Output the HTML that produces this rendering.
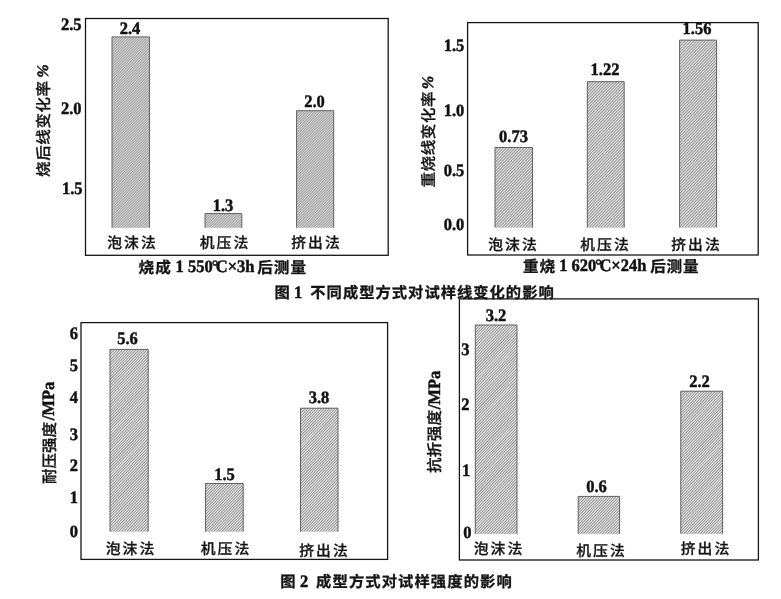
<!DOCTYPE html>
<html lang="zh">
<head>
<meta charset="utf-8">
<title>图1 图2 成型方式对试样线变化与强度的影响</title>
<style>
html,body{margin:0;padding:0;background:#fff;overflow:hidden}
body{width:781px;height:599px;font-family:"Liberation Serif",serif}
svg{display:block;will-change:transform}
svg text{font-family:"Liberation Serif",serif;font-weight:bold;text-rendering:geometricPrecision;fill:#111;stroke:#111;stroke-width:.45px}
svg text.cj{font-family:"Liberation Sans","Noto Sans CJK SC",sans-serif;font-weight:500;fill:#141414;stroke:#141414;stroke-width:.3px}
svg text.cjb{font-family:"Liberation Sans","Noto Sans CJK SC",sans-serif;font-weight:bold;fill:#141414;stroke:#141414;stroke-width:.3px}
</style>
</head>
<body>
<svg width="781" height="599" viewBox="0 0 781 599">
<defs>
<clipPath id="bc1"><rect x="112" y="36.9" width="37.50" height="190.90"/><rect x="205" y="213.6" width="36.80" height="14.20"/><rect x="296.6" y="110.7" width="37.10" height="117.10"/></clipPath><clipPath id="bc2"><rect x="495" y="147.5" width="37.50" height="80.00"/><rect x="587.3" y="81.7" width="36.90" height="145.80"/><rect x="679.6" y="40.1" width="37.00" height="187.40"/></clipPath><clipPath id="bc3"><rect x="110" y="349.4" width="38.20" height="182.10"/><rect x="205.5" y="483.5" width="37.70" height="48.00"/><rect x="300.5" y="408.2" width="37.50" height="123.30"/></clipPath><clipPath id="bc4"><rect x="475.3" y="325" width="41.70" height="208.70"/><rect x="578.2" y="496.4" width="41.40" height="37.30"/><rect x="680.8" y="391.2" width="41.80" height="142.50"/></clipPath>
</defs>
<rect width="781" height="599" fill="#fff"/>
<g clip-path="url(#bc1)"><rect x="111.0" y="35.9" width="223.7" height="192.9" fill="#a6a6a6"/><path d="M-81.9 228.8l192.9-192.9M-79.3 228.8l192.9-192.9M-76.7 228.8l192.9-192.9M-74.1 228.8l192.9-192.9M-71.5 228.8l192.9-192.9M-68.9 228.8l192.9-192.9M-66.3 228.8l192.9-192.9M-63.7 228.8l192.9-192.9M-61.1 228.8l192.9-192.9M-58.5 228.8l192.9-192.9M-55.9 228.8l192.9-192.9M-53.3 228.8l192.9-192.9M-50.7 228.8l192.9-192.9M-48.1 228.8l192.9-192.9M-45.5 228.8l192.9-192.9M-42.9 228.8l192.9-192.9M-40.3 228.8l192.9-192.9M-37.7 228.8l192.9-192.9M-35.1 228.8l192.9-192.9M-32.5 228.8l192.9-192.9M-29.9 228.8l192.9-192.9M-27.3 228.8l192.9-192.9M-24.7 228.8l192.9-192.9M-22.1 228.8l192.9-192.9M-19.5 228.8l192.9-192.9M-16.9 228.8l192.9-192.9M-14.3 228.8l192.9-192.9M-11.7 228.8l192.9-192.9M-9.1 228.8l192.9-192.9M-6.5 228.8l192.9-192.9M-3.9 228.8l192.9-192.9M-1.3 228.8l192.9-192.9M1.3 228.8l192.9-192.9M3.9 228.8l192.9-192.9M6.5 228.8l192.9-192.9M9.1 228.8l192.9-192.9M11.7 228.8l192.9-192.9M14.3 228.8l192.9-192.9M16.9 228.8l192.9-192.9M19.5 228.8l192.9-192.9M22.1 228.8l192.9-192.9M24.7 228.8l192.9-192.9M27.3 228.8l192.9-192.9M29.9 228.8l192.9-192.9M32.5 228.8l192.9-192.9M35.1 228.8l192.9-192.9M37.7 228.8l192.9-192.9M40.3 228.8l192.9-192.9M42.9 228.8l192.9-192.9M45.5 228.8l192.9-192.9M48.1 228.8l192.9-192.9M50.7 228.8l192.9-192.9M53.3 228.8l192.9-192.9M55.9 228.8l192.9-192.9M58.5 228.8l192.9-192.9M61.1 228.8l192.9-192.9M63.7 228.8l192.9-192.9M66.3 228.8l192.9-192.9M68.9 228.8l192.9-192.9M71.5 228.8l192.9-192.9M74.1 228.8l192.9-192.9M76.7 228.8l192.9-192.9M79.3 228.8l192.9-192.9M81.9 228.8l192.9-192.9M84.5 228.8l192.9-192.9M87.1 228.8l192.9-192.9M89.7 228.8l192.9-192.9M92.3 228.8l192.9-192.9M94.9 228.8l192.9-192.9M97.5 228.8l192.9-192.9M100.1 228.8l192.9-192.9M102.7 228.8l192.9-192.9M105.3 228.8l192.9-192.9M107.9 228.8l192.9-192.9M110.5 228.8l192.9-192.9M113.1 228.8l192.9-192.9M115.7 228.8l192.9-192.9M118.3 228.8l192.9-192.9M120.9 228.8l192.9-192.9M123.5 228.8l192.9-192.9M126.1 228.8l192.9-192.9M128.7 228.8l192.9-192.9M131.3 228.8l192.9-192.9M133.9 228.8l192.9-192.9M136.5 228.8l192.9-192.9M139.1 228.8l192.9-192.9M141.7 228.8l192.9-192.9M144.3 228.8l192.9-192.9M146.9 228.8l192.9-192.9M149.5 228.8l192.9-192.9M152.1 228.8l192.9-192.9M154.7 228.8l192.9-192.9M157.3 228.8l192.9-192.9M159.9 228.8l192.9-192.9M162.5 228.8l192.9-192.9M165.1 228.8l192.9-192.9M167.7 228.8l192.9-192.9M170.3 228.8l192.9-192.9M172.9 228.8l192.9-192.9M175.5 228.8l192.9-192.9M178.1 228.8l192.9-192.9M180.7 228.8l192.9-192.9M183.3 228.8l192.9-192.9M185.9 228.8l192.9-192.9M188.5 228.8l192.9-192.9M191.1 228.8l192.9-192.9M193.7 228.8l192.9-192.9M196.3 228.8l192.9-192.9M198.9 228.8l192.9-192.9M201.5 228.8l192.9-192.9M204.1 228.8l192.9-192.9M206.7 228.8l192.9-192.9M209.3 228.8l192.9-192.9M211.9 228.8l192.9-192.9M214.5 228.8l192.9-192.9M217.1 228.8l192.9-192.9M219.7 228.8l192.9-192.9M222.3 228.8l192.9-192.9M224.9 228.8l192.9-192.9M227.5 228.8l192.9-192.9M230.1 228.8l192.9-192.9M232.7 228.8l192.9-192.9M235.3 228.8l192.9-192.9M237.9 228.8l192.9-192.9M240.5 228.8l192.9-192.9M243.1 228.8l192.9-192.9M245.7 228.8l192.9-192.9M248.3 228.8l192.9-192.9M250.9 228.8l192.9-192.9M253.5 228.8l192.9-192.9M256.1 228.8l192.9-192.9M258.7 228.8l192.9-192.9M261.3 228.8l192.9-192.9M263.9 228.8l192.9-192.9M266.5 228.8l192.9-192.9M269.1 228.8l192.9-192.9M271.7 228.8l192.9-192.9M274.3 228.8l192.9-192.9M276.9 228.8l192.9-192.9M279.5 228.8l192.9-192.9M282.1 228.8l192.9-192.9M284.7 228.8l192.9-192.9M287.3 228.8l192.9-192.9M289.9 228.8l192.9-192.9M292.5 228.8l192.9-192.9M295.1 228.8l192.9-192.9M297.7 228.8l192.9-192.9M300.3 228.8l192.9-192.9M302.9 228.8l192.9-192.9M305.5 228.8l192.9-192.9M308.1 228.8l192.9-192.9M310.7 228.8l192.9-192.9M313.3 228.8l192.9-192.9M315.9 228.8l192.9-192.9M318.5 228.8l192.9-192.9M321.1 228.8l192.9-192.9M323.7 228.8l192.9-192.9M326.3 228.8l192.9-192.9M328.9 228.8l192.9-192.9M331.5 228.8l192.9-192.9M334.1 228.8l192.9-192.9" stroke="#e0e0e0" stroke-width="0.92" fill="none"/></g>
<g clip-path="url(#bc2)"><rect x="494.0" y="39.1" width="223.6" height="189.4" fill="#949494"/><path d="M311.1 228.5l182.9-189.4M314.0 228.5l182.9-189.4M316.9 228.5l182.9-189.4M319.8 228.5l182.9-189.4M322.7 228.5l182.9-189.4M325.6 228.5l182.9-189.4M328.5 228.5l182.9-189.4M331.4 228.5l182.9-189.4M334.3 228.5l182.9-189.4M337.2 228.5l182.9-189.4M340.1 228.5l182.9-189.4M343.0 228.5l182.9-189.4M345.9 228.5l182.9-189.4M348.8 228.5l182.9-189.4M351.7 228.5l182.9-189.4M354.6 228.5l182.9-189.4M357.5 228.5l182.9-189.4M360.4 228.5l182.9-189.4M363.3 228.5l182.9-189.4M366.2 228.5l182.9-189.4M369.1 228.5l182.9-189.4M372.0 228.5l182.9-189.4M374.9 228.5l182.9-189.4M377.8 228.5l182.9-189.4M380.7 228.5l182.9-189.4M383.6 228.5l182.9-189.4M386.5 228.5l182.9-189.4M389.4 228.5l182.9-189.4M392.3 228.5l182.9-189.4M395.2 228.5l182.9-189.4M398.1 228.5l182.9-189.4M401.0 228.5l182.9-189.4M403.9 228.5l182.9-189.4M406.8 228.5l182.9-189.4M409.7 228.5l182.9-189.4M412.6 228.5l182.9-189.4M415.5 228.5l182.9-189.4M418.4 228.5l182.9-189.4M421.3 228.5l182.9-189.4M424.2 228.5l182.9-189.4M427.1 228.5l182.9-189.4M430.0 228.5l182.9-189.4M432.9 228.5l182.9-189.4M435.8 228.5l182.9-189.4M438.7 228.5l182.9-189.4M441.6 228.5l182.9-189.4M444.5 228.5l182.9-189.4M447.4 228.5l182.9-189.4M450.3 228.5l182.9-189.4M453.2 228.5l182.9-189.4M456.1 228.5l182.9-189.4M459.0 228.5l182.9-189.4M461.9 228.5l182.9-189.4M464.8 228.5l182.9-189.4M467.7 228.5l182.9-189.4M470.6 228.5l182.9-189.4M473.5 228.5l182.9-189.4M476.4 228.5l182.9-189.4M479.3 228.5l182.9-189.4M482.2 228.5l182.9-189.4M485.1 228.5l182.9-189.4M488.0 228.5l182.9-189.4M490.9 228.5l182.9-189.4M493.8 228.5l182.9-189.4M496.7 228.5l182.9-189.4M499.6 228.5l182.9-189.4M502.5 228.5l182.9-189.4M505.4 228.5l182.9-189.4M508.3 228.5l182.9-189.4M511.2 228.5l182.9-189.4M514.1 228.5l182.9-189.4M517.0 228.5l182.9-189.4M519.9 228.5l182.9-189.4M522.8 228.5l182.9-189.4M525.7 228.5l182.9-189.4M528.6 228.5l182.9-189.4M531.5 228.5l182.9-189.4M534.4 228.5l182.9-189.4M537.3 228.5l182.9-189.4M540.2 228.5l182.9-189.4M543.1 228.5l182.9-189.4M546.0 228.5l182.9-189.4M548.9 228.5l182.9-189.4M551.8 228.5l182.9-189.4M554.7 228.5l182.9-189.4M557.6 228.5l182.9-189.4M560.5 228.5l182.9-189.4M563.4 228.5l182.9-189.4M566.3 228.5l182.9-189.4M569.2 228.5l182.9-189.4M572.1 228.5l182.9-189.4M575.0 228.5l182.9-189.4M577.9 228.5l182.9-189.4M580.8 228.5l182.9-189.4M583.7 228.5l182.9-189.4M586.6 228.5l182.9-189.4M589.5 228.5l182.9-189.4M592.4 228.5l182.9-189.4M595.3 228.5l182.9-189.4M598.2 228.5l182.9-189.4M601.1 228.5l182.9-189.4M604.0 228.5l182.9-189.4M606.9 228.5l182.9-189.4M609.8 228.5l182.9-189.4M612.7 228.5l182.9-189.4M615.6 228.5l182.9-189.4M618.5 228.5l182.9-189.4M621.4 228.5l182.9-189.4M624.3 228.5l182.9-189.4M627.2 228.5l182.9-189.4M630.1 228.5l182.9-189.4M633.0 228.5l182.9-189.4M635.9 228.5l182.9-189.4M638.8 228.5l182.9-189.4M641.7 228.5l182.9-189.4M644.6 228.5l182.9-189.4M647.5 228.5l182.9-189.4M650.4 228.5l182.9-189.4M653.3 228.5l182.9-189.4M656.2 228.5l182.9-189.4M659.1 228.5l182.9-189.4M662.0 228.5l182.9-189.4M664.9 228.5l182.9-189.4M667.8 228.5l182.9-189.4M670.7 228.5l182.9-189.4M673.6 228.5l182.9-189.4M676.5 228.5l182.9-189.4M679.4 228.5l182.9-189.4M682.3 228.5l182.9-189.4M685.2 228.5l182.9-189.4M688.1 228.5l182.9-189.4M691.0 228.5l182.9-189.4M693.9 228.5l182.9-189.4M696.8 228.5l182.9-189.4M699.7 228.5l182.9-189.4M702.6 228.5l182.9-189.4M705.5 228.5l182.9-189.4M708.4 228.5l182.9-189.4M711.3 228.5l182.9-189.4M714.2 228.5l182.9-189.4M717.1 228.5l182.9-189.4" stroke="#e8e8e8" stroke-width="1.08" fill="none"/></g>
<g clip-path="url(#bc3)"><rect x="109.0" y="348.4" width="230.0" height="184.1" fill="#848484"/><path d="M-68.8 532.5l177.8-184.1M-66.1 532.5l177.8-184.1M-63.3 532.5l177.8-184.1M-60.6 532.5l177.8-184.1M-57.9 532.5l177.8-184.1M-55.2 532.5l177.8-184.1M-52.5 532.5l177.8-184.1M-49.7 532.5l177.8-184.1M-47.0 532.5l177.8-184.1M-44.3 532.5l177.8-184.1M-41.6 532.5l177.8-184.1M-38.9 532.5l177.8-184.1M-36.1 532.5l177.8-184.1M-33.4 532.5l177.8-184.1M-30.7 532.5l177.8-184.1M-28.0 532.5l177.8-184.1M-25.3 532.5l177.8-184.1M-22.5 532.5l177.8-184.1M-19.8 532.5l177.8-184.1M-17.1 532.5l177.8-184.1M-14.4 532.5l177.8-184.1M-11.7 532.5l177.8-184.1M-8.9 532.5l177.8-184.1M-6.2 532.5l177.8-184.1M-3.5 532.5l177.8-184.1M-0.8 532.5l177.8-184.1M1.9 532.5l177.8-184.1M4.7 532.5l177.8-184.1M7.4 532.5l177.8-184.1M10.1 532.5l177.8-184.1M12.8 532.5l177.8-184.1M15.5 532.5l177.8-184.1M18.3 532.5l177.8-184.1M21.0 532.5l177.8-184.1M23.7 532.5l177.8-184.1M26.4 532.5l177.8-184.1M29.1 532.5l177.8-184.1M31.9 532.5l177.8-184.1M34.6 532.5l177.8-184.1M37.3 532.5l177.8-184.1M40.0 532.5l177.8-184.1M42.7 532.5l177.8-184.1M45.5 532.5l177.8-184.1M48.2 532.5l177.8-184.1M50.9 532.5l177.8-184.1M53.6 532.5l177.8-184.1M56.3 532.5l177.8-184.1M59.1 532.5l177.8-184.1M61.8 532.5l177.8-184.1M64.5 532.5l177.8-184.1M67.2 532.5l177.8-184.1M69.9 532.5l177.8-184.1M72.7 532.5l177.8-184.1M75.4 532.5l177.8-184.1M78.1 532.5l177.8-184.1M80.8 532.5l177.8-184.1M83.5 532.5l177.8-184.1M86.3 532.5l177.8-184.1M89.0 532.5l177.8-184.1M91.7 532.5l177.8-184.1M94.4 532.5l177.8-184.1M97.1 532.5l177.8-184.1M99.9 532.5l177.8-184.1M102.6 532.5l177.8-184.1M105.3 532.5l177.8-184.1M108.0 532.5l177.8-184.1M110.7 532.5l177.8-184.1M113.5 532.5l177.8-184.1M116.2 532.5l177.8-184.1M118.9 532.5l177.8-184.1M121.6 532.5l177.8-184.1M124.3 532.5l177.8-184.1M127.1 532.5l177.8-184.1M129.8 532.5l177.8-184.1M132.5 532.5l177.8-184.1M135.2 532.5l177.8-184.1M137.9 532.5l177.8-184.1M140.7 532.5l177.8-184.1M143.4 532.5l177.8-184.1M146.1 532.5l177.8-184.1M148.8 532.5l177.8-184.1M151.5 532.5l177.8-184.1M154.3 532.5l177.8-184.1M157.0 532.5l177.8-184.1M159.7 532.5l177.8-184.1M162.4 532.5l177.8-184.1M165.1 532.5l177.8-184.1M167.9 532.5l177.8-184.1M170.6 532.5l177.8-184.1M173.3 532.5l177.8-184.1M176.0 532.5l177.8-184.1M178.7 532.5l177.8-184.1M181.5 532.5l177.8-184.1M184.2 532.5l177.8-184.1M186.9 532.5l177.8-184.1M189.6 532.5l177.8-184.1M192.3 532.5l177.8-184.1M195.1 532.5l177.8-184.1M197.8 532.5l177.8-184.1M200.5 532.5l177.8-184.1M203.2 532.5l177.8-184.1M205.9 532.5l177.8-184.1M208.7 532.5l177.8-184.1M211.4 532.5l177.8-184.1M214.1 532.5l177.8-184.1M216.8 532.5l177.8-184.1M219.5 532.5l177.8-184.1M222.3 532.5l177.8-184.1M225.0 532.5l177.8-184.1M227.7 532.5l177.8-184.1M230.4 532.5l177.8-184.1M233.1 532.5l177.8-184.1M235.9 532.5l177.8-184.1M238.6 532.5l177.8-184.1M241.3 532.5l177.8-184.1M244.0 532.5l177.8-184.1M246.7 532.5l177.8-184.1M249.5 532.5l177.8-184.1M252.2 532.5l177.8-184.1M254.9 532.5l177.8-184.1M257.6 532.5l177.8-184.1M260.3 532.5l177.8-184.1M263.1 532.5l177.8-184.1M265.8 532.5l177.8-184.1M268.5 532.5l177.8-184.1M271.2 532.5l177.8-184.1M273.9 532.5l177.8-184.1M276.7 532.5l177.8-184.1M279.4 532.5l177.8-184.1M282.1 532.5l177.8-184.1M284.8 532.5l177.8-184.1M287.5 532.5l177.8-184.1M290.3 532.5l177.8-184.1M293.0 532.5l177.8-184.1M295.7 532.5l177.8-184.1M298.4 532.5l177.8-184.1M301.1 532.5l177.8-184.1M303.9 532.5l177.8-184.1M306.6 532.5l177.8-184.1M309.3 532.5l177.8-184.1M312.0 532.5l177.8-184.1M314.7 532.5l177.8-184.1M317.5 532.5l177.8-184.1M320.2 532.5l177.8-184.1M322.9 532.5l177.8-184.1M325.6 532.5l177.8-184.1M328.3 532.5l177.8-184.1M331.1 532.5l177.8-184.1M333.8 532.5l177.8-184.1M336.5 532.5l177.8-184.1" stroke="#f0f0f0" stroke-width="1.08" fill="none"/></g>
<g clip-path="url(#bc4)"><rect x="474.3" y="324.0" width="249.3" height="210.7" fill="#848484"/><path d="M270.8 534.7l203.5-210.7M273.5 534.7l203.5-210.7M276.3 534.7l203.5-210.7M279.0 534.7l203.5-210.7M281.7 534.7l203.5-210.7M284.4 534.7l203.5-210.7M287.1 534.7l203.5-210.7M289.9 534.7l203.5-210.7M292.6 534.7l203.5-210.7M295.3 534.7l203.5-210.7M298.0 534.7l203.5-210.7M300.7 534.7l203.5-210.7M303.5 534.7l203.5-210.7M306.2 534.7l203.5-210.7M308.9 534.7l203.5-210.7M311.6 534.7l203.5-210.7M314.3 534.7l203.5-210.7M317.1 534.7l203.5-210.7M319.8 534.7l203.5-210.7M322.5 534.7l203.5-210.7M325.2 534.7l203.5-210.7M327.9 534.7l203.5-210.7M330.7 534.7l203.5-210.7M333.4 534.7l203.5-210.7M336.1 534.7l203.5-210.7M338.8 534.7l203.5-210.7M341.5 534.7l203.5-210.7M344.3 534.7l203.5-210.7M347.0 534.7l203.5-210.7M349.7 534.7l203.5-210.7M352.4 534.7l203.5-210.7M355.1 534.7l203.5-210.7M357.9 534.7l203.5-210.7M360.6 534.7l203.5-210.7M363.3 534.7l203.5-210.7M366.0 534.7l203.5-210.7M368.7 534.7l203.5-210.7M371.5 534.7l203.5-210.7M374.2 534.7l203.5-210.7M376.9 534.7l203.5-210.7M379.6 534.7l203.5-210.7M382.3 534.7l203.5-210.7M385.1 534.7l203.5-210.7M387.8 534.7l203.5-210.7M390.5 534.7l203.5-210.7M393.2 534.7l203.5-210.7M395.9 534.7l203.5-210.7M398.7 534.7l203.5-210.7M401.4 534.7l203.5-210.7M404.1 534.7l203.5-210.7M406.8 534.7l203.5-210.7M409.5 534.7l203.5-210.7M412.3 534.7l203.5-210.7M415.0 534.7l203.5-210.7M417.7 534.7l203.5-210.7M420.4 534.7l203.5-210.7M423.1 534.7l203.5-210.7M425.9 534.7l203.5-210.7M428.6 534.7l203.5-210.7M431.3 534.7l203.5-210.7M434.0 534.7l203.5-210.7M436.7 534.7l203.5-210.7M439.5 534.7l203.5-210.7M442.2 534.7l203.5-210.7M444.9 534.7l203.5-210.7M447.6 534.7l203.5-210.7M450.3 534.7l203.5-210.7M453.1 534.7l203.5-210.7M455.8 534.7l203.5-210.7M458.5 534.7l203.5-210.7M461.2 534.7l203.5-210.7M463.9 534.7l203.5-210.7M466.7 534.7l203.5-210.7M469.4 534.7l203.5-210.7M472.1 534.7l203.5-210.7M474.8 534.7l203.5-210.7M477.5 534.7l203.5-210.7M480.3 534.7l203.5-210.7M483.0 534.7l203.5-210.7M485.7 534.7l203.5-210.7M488.4 534.7l203.5-210.7M491.1 534.7l203.5-210.7M493.9 534.7l203.5-210.7M496.6 534.7l203.5-210.7M499.3 534.7l203.5-210.7M502.0 534.7l203.5-210.7M504.7 534.7l203.5-210.7M507.5 534.7l203.5-210.7M510.2 534.7l203.5-210.7M512.9 534.7l203.5-210.7M515.6 534.7l203.5-210.7M518.3 534.7l203.5-210.7M521.1 534.7l203.5-210.7M523.8 534.7l203.5-210.7M526.5 534.7l203.5-210.7M529.2 534.7l203.5-210.7M531.9 534.7l203.5-210.7M534.7 534.7l203.5-210.7M537.4 534.7l203.5-210.7M540.1 534.7l203.5-210.7M542.8 534.7l203.5-210.7M545.5 534.7l203.5-210.7M548.3 534.7l203.5-210.7M551.0 534.7l203.5-210.7M553.7 534.7l203.5-210.7M556.4 534.7l203.5-210.7M559.1 534.7l203.5-210.7M561.9 534.7l203.5-210.7M564.6 534.7l203.5-210.7M567.3 534.7l203.5-210.7M570.0 534.7l203.5-210.7M572.7 534.7l203.5-210.7M575.5 534.7l203.5-210.7M578.2 534.7l203.5-210.7M580.9 534.7l203.5-210.7M583.6 534.7l203.5-210.7M586.3 534.7l203.5-210.7M589.1 534.7l203.5-210.7M591.8 534.7l203.5-210.7M594.5 534.7l203.5-210.7M597.2 534.7l203.5-210.7M599.9 534.7l203.5-210.7M602.7 534.7l203.5-210.7M605.4 534.7l203.5-210.7M608.1 534.7l203.5-210.7M610.8 534.7l203.5-210.7M613.5 534.7l203.5-210.7M616.3 534.7l203.5-210.7M619.0 534.7l203.5-210.7M621.7 534.7l203.5-210.7M624.4 534.7l203.5-210.7M627.1 534.7l203.5-210.7M629.9 534.7l203.5-210.7M632.6 534.7l203.5-210.7M635.3 534.7l203.5-210.7M638.0 534.7l203.5-210.7M640.7 534.7l203.5-210.7M643.5 534.7l203.5-210.7M646.2 534.7l203.5-210.7M648.9 534.7l203.5-210.7M651.6 534.7l203.5-210.7M654.3 534.7l203.5-210.7M657.1 534.7l203.5-210.7M659.8 534.7l203.5-210.7M662.5 534.7l203.5-210.7M665.2 534.7l203.5-210.7M667.9 534.7l203.5-210.7M670.7 534.7l203.5-210.7M673.4 534.7l203.5-210.7M676.1 534.7l203.5-210.7M678.8 534.7l203.5-210.7M681.5 534.7l203.5-210.7M684.3 534.7l203.5-210.7M687.0 534.7l203.5-210.7M689.7 534.7l203.5-210.7M692.4 534.7l203.5-210.7M695.1 534.7l203.5-210.7M697.9 534.7l203.5-210.7M700.6 534.7l203.5-210.7M703.3 534.7l203.5-210.7M706.0 534.7l203.5-210.7M708.7 534.7l203.5-210.7M711.5 534.7l203.5-210.7M714.2 534.7l203.5-210.7M716.9 534.7l203.5-210.7M719.6 534.7l203.5-210.7M722.3 534.7l203.5-210.7" stroke="#f0f0f0" stroke-width="1.08" fill="none"/></g>
<rect x="85.5" y="18.5" width="302.7" height="236.8" fill="none" stroke="#161616" stroke-width="1.3"/>
<path d="M112 227.8V36.9H149.5V227.8" fill="none" stroke="#5c5c5c" stroke-width="0.95"/>
<path d="M205 227.8V213.6H241.8V227.8" fill="none" stroke="#5c5c5c" stroke-width="0.95"/>
<path d="M296.6 227.8V110.7H333.7V227.8" fill="none" stroke="#5c5c5c" stroke-width="0.95"/>
<text transform="translate(81.50 25.00) translate(0 5.31) scale(1 1.06)" font-size="16.5" text-anchor="end">2.5</text>
<text transform="translate(81.50 109.00) translate(0 5.31) scale(1 1.06)" font-size="16.5" text-anchor="end">2.0</text>
<text transform="translate(82.60 188.60) translate(0 5.31) scale(1 1.06)" font-size="16.5" text-anchor="end">1.5</text>
<text transform="translate(130.00 28.30) translate(0 5.31) scale(1 1.06)" font-size="16.5" text-anchor="middle">2.4</text>
<text transform="translate(223.00 205.30) translate(0 5.31) scale(1 1.06)" font-size="16.5" text-anchor="middle">1.3</text>
<text transform="translate(314.50 101.30) translate(0 5.31) scale(1 1.06)" font-size="16.5" text-anchor="middle">2.0</text>
<text class="cj" x="107.3" y="248.42" font-size="14.8" letter-spacing="2">泡沫法</text>
<text class="cj" x="199.8" y="248.42" font-size="14.8" letter-spacing="2">机压法</text>
<text class="cj" x="291.3" y="248.42" font-size="14.8" letter-spacing="2">挤出法</text>
<text class="cj" transform="translate(43.30 128.90) rotate(-90) translate(-48.00 5.89)" font-size="15.5" letter-spacing="0.6">烧后线变化率</text>
<text x="43.3" y="71" font-size="16" font-style="italic" font-weight="normal" text-anchor="middle" transform="rotate(-90 43.3 71)" dy="5">%</text>
<text class="cjb" x="138.6" y="272.73" font-size="15.6" letter-spacing="1">烧成</text>
<text transform="translate(215.00 266.80) translate(0 5.31) scale(1 1.06)" font-size="16.5" text-anchor="middle">1 550<tspan dx="-1">°</tspan><tspan dx="-2.5">C</tspan>×3h</text>
<text class="cjb" x="257.2" y="272.73" font-size="15.6" letter-spacing="1">后测量</text>
<rect x="467.6" y="22.6" width="290.6" height="232.4" fill="none" stroke="#161616" stroke-width="1.3"/>
<path d="M495 227.5V147.5H532.5V227.5" fill="none" stroke="#5c5c5c" stroke-width="0.95"/>
<path d="M587.3 227.5V81.7H624.2V227.5" fill="none" stroke="#5c5c5c" stroke-width="0.95"/>
<path d="M679.6 227.5V40.1H716.6V227.5" fill="none" stroke="#5c5c5c" stroke-width="0.95"/>
<text transform="translate(464.30 45.50) translate(0 5.31) scale(1 1.06)" font-size="16.5" text-anchor="end">1.5</text>
<text transform="translate(464.30 111.00) translate(0 5.31) scale(1 1.06)" font-size="16.5" text-anchor="end">1.0</text>
<text transform="translate(464.30 170.50) translate(0 5.31) scale(1 1.06)" font-size="16.5" text-anchor="end">0.5</text>
<text transform="translate(464.30 224.50) translate(0 5.31) scale(1 1.06)" font-size="16.5" text-anchor="end">0.0</text>
<text transform="translate(513.50 136.50) translate(0 5.31) scale(1 1.06)" font-size="16.5" text-anchor="middle">0.73</text>
<text transform="translate(605.00 70.00) translate(0 5.31) scale(1 1.06)" font-size="16.5" text-anchor="middle">1.22</text>
<text transform="translate(697.00 29.00) translate(0 5.31) scale(1 1.06)" font-size="16.5" text-anchor="middle">1.56</text>
<text class="cj" x="488.3" y="250.02" font-size="14.8" letter-spacing="2">泡沫法</text>
<text class="cj" x="580.3" y="250.02" font-size="14.8" letter-spacing="2">机压法</text>
<text class="cj" x="671.3" y="250.02" font-size="14.8" letter-spacing="2">挤出法</text>
<text class="cj" transform="translate(427.80 139.50) rotate(-90) translate(-48.00 5.89)" font-size="15.5" letter-spacing="0.6">重烧线变化率</text>
<text x="427.8" y="82.5" font-size="16" font-style="italic" font-weight="normal" text-anchor="middle" transform="rotate(-90 427.8 82.5)" dy="5">%</text>
<text class="cjb" x="523" y="271.63" font-size="15.6" letter-spacing="0.8">重烧</text>
<text transform="translate(602.80 265.70) translate(0 5.31) scale(1 1.06)" font-size="16.5" text-anchor="middle">1 620<tspan dx="-1">°</tspan><tspan dx="-2.5">C</tspan>×24h</text>
<text class="cjb" x="650.2" y="271.63" font-size="15.6" letter-spacing="0.8">后测量</text>
<text class="cjb" x="274.4" y="298.41" font-size="15.3">图</text>
<text transform="translate(298.20 292.80) translate(0 5.31) scale(1 1.06)" font-size="16.5" text-anchor="middle">1</text>
<text class="cjb" x="310.3" y="298.41" font-size="15.3" letter-spacing="1">不同成型方式对试样线变化的影响</text>
<rect x="459.4" y="298.9" width="299.0" height="261.1" fill="none" stroke="#161616" stroke-width="1.3"/>
<path d="M475.3 533.7V325H517.0V533.7" fill="none" stroke="#5c5c5c" stroke-width="0.95"/>
<path d="M578.2 533.7V496.4H619.6V533.7" fill="none" stroke="#5c5c5c" stroke-width="0.95"/>
<path d="M680.8 533.7V391.2H722.6V533.7" fill="none" stroke="#5c5c5c" stroke-width="0.95"/>
<text transform="translate(465.40 349.80) translate(0 5.31) scale(1 1.06)" font-size="16.5" text-anchor="middle">3</text>
<text transform="translate(465.40 404.50) translate(0 5.31) scale(1 1.06)" font-size="16.5" text-anchor="middle">2</text>
<text transform="translate(466.10 470.50) translate(0 5.31) scale(1 1.06)" font-size="16.5" text-anchor="middle">1</text>
<text transform="translate(467.40 532.30) translate(0 5.31) scale(1 1.06)" font-size="16.5" text-anchor="middle">0</text>
<text transform="translate(496.00 315.50) translate(0 5.31) scale(1 1.06)" font-size="16.5" text-anchor="middle">3.2</text>
<text transform="translate(596.50 487.00) translate(0 5.31) scale(1 1.06)" font-size="16.5" text-anchor="middle">0.6</text>
<text transform="translate(699.50 381.50) translate(0 5.31) scale(1 1.06)" font-size="16.5" text-anchor="middle">2.2</text>
<text class="cj" x="473.8" y="554.22" font-size="14.8" letter-spacing="2">泡沫法</text>
<text class="cj" x="576.3" y="555.62" font-size="14.8" letter-spacing="2">机压法</text>
<text class="cj" x="680.8" y="554.22" font-size="14.8" letter-spacing="2">挤出法</text>
<text class="cj" transform="translate(434.50 441.50) rotate(-90) translate(-31.60 5.89)" font-size="15.5" letter-spacing="0.4">抗折强度</text>
<text transform="translate(434.50 390.00) rotate(-90) translate(0 5.31) scale(1 1.06)" font-size="16.5" text-anchor="middle">/MPa</text>
<rect x="81" y="322.6" width="306.6" height="236.79999999999995" fill="none" stroke="#161616" stroke-width="1.3"/>
<path d="M110 531.5V349.4H148.2V531.5" fill="none" stroke="#5c5c5c" stroke-width="0.95"/>
<path d="M205.5 531.5V483.5H243.2V531.5" fill="none" stroke="#5c5c5c" stroke-width="0.95"/>
<path d="M300.5 531.5V408.2H338V531.5" fill="none" stroke="#5c5c5c" stroke-width="0.95"/>
<text transform="translate(73.80 333.80) translate(0 5.31) scale(1 1.06)" font-size="16.5" text-anchor="middle">6</text>
<text transform="translate(73.80 365.20) translate(0 5.31) scale(1 1.06)" font-size="16.5" text-anchor="middle">5</text>
<text transform="translate(73.80 397.30) translate(0 5.31) scale(1 1.06)" font-size="16.5" text-anchor="middle">4</text>
<text transform="translate(73.80 434.20) translate(0 5.31) scale(1 1.06)" font-size="16.5" text-anchor="middle">3</text>
<text transform="translate(73.80 465.40) translate(0 5.31) scale(1 1.06)" font-size="16.5" text-anchor="middle">2</text>
<text transform="translate(73.80 497.40) translate(0 5.31) scale(1 1.06)" font-size="16.5" text-anchor="middle">1</text>
<text transform="translate(73.80 531.60) translate(0 5.31) scale(1 1.06)" font-size="16.5" text-anchor="middle">0</text>
<text transform="translate(127.50 338.20) translate(0 5.31) scale(1 1.06)" font-size="16.5" text-anchor="middle">5.6</text>
<text transform="translate(224.50 474.20) translate(0 5.31) scale(1 1.06)" font-size="16.5" text-anchor="middle">1.5</text>
<text transform="translate(319.00 397.50) translate(0 5.31) scale(1 1.06)" font-size="16.5" text-anchor="middle">3.8</text>
<text class="cj" x="105.8" y="554.02" font-size="14.8" letter-spacing="2">泡沫法</text>
<text class="cj" x="200.8" y="554.02" font-size="14.8" letter-spacing="2">机压法</text>
<text class="cj" x="299.3" y="555.52" font-size="14.8" letter-spacing="2">挤出法</text>
<text class="cj" transform="translate(49.00 453.00) rotate(-90) translate(-31.00 5.89)" font-size="15.5">耐压强度</text>
<text transform="translate(49.00 401.00) rotate(-90) translate(0 5.31) scale(1 1.06)" font-size="16.5" text-anchor="middle">/MPa</text>
<text class="cjb" x="280.2" y="586.81" font-size="15.3">图</text>
<text transform="translate(304.00 581.20) translate(0 5.31) scale(1 1.06)" font-size="16.5" text-anchor="middle">2</text>
<text class="cjb" x="316.1" y="586.81" font-size="15.3" letter-spacing="1.1">成型方式对试样强度的影响</text>
</svg>
</body>
</html>
